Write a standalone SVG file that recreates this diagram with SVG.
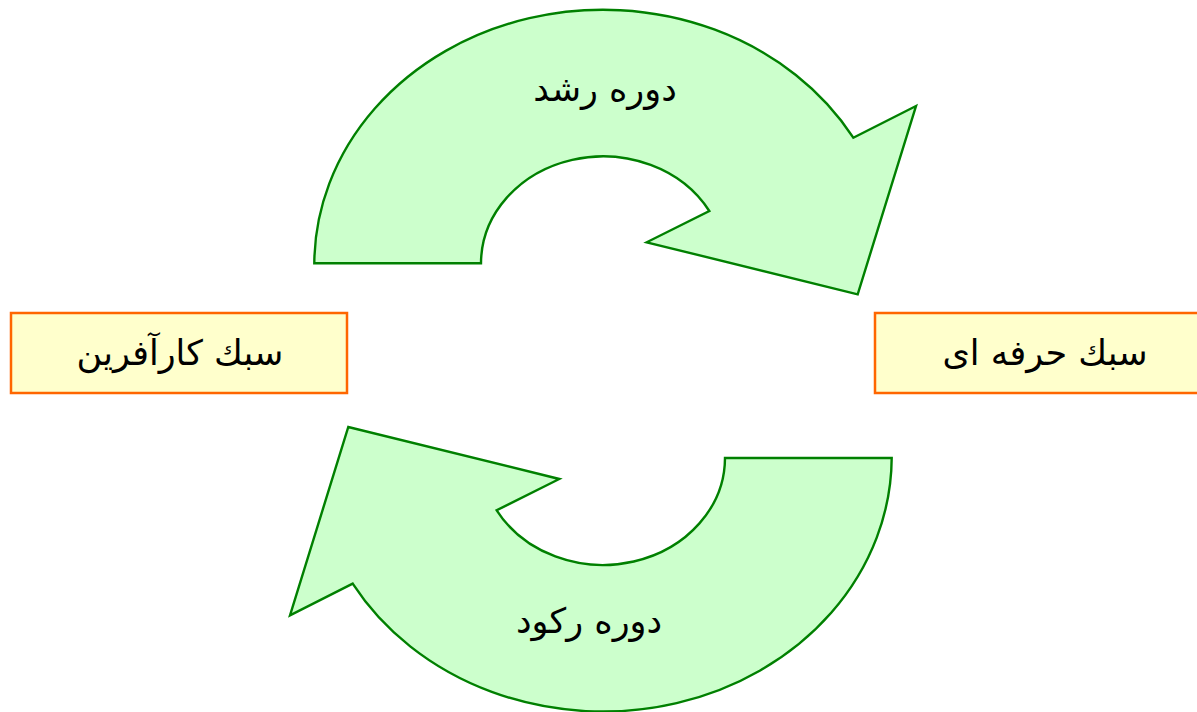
<svg xmlns="http://www.w3.org/2000/svg" xmlns:xlink="http://www.w3.org/1999/xlink" width="1197" height="712" viewBox="0 0 1197 712">
  <style>
    .arrow { fill: #CCFFCC; stroke: #008000; stroke-width: 2.4; stroke-linejoin: miter; }
    .box { fill: #FFFFCC; stroke: #FF6600; stroke-width: 2.5; }
    .lbl { font-family: "DejaVu Sans", "Liberation Serif", sans-serif; font-size: 35px; fill: #000000; text-anchor: middle; direction: rtl; }
  </style>
  <defs>
    <path id="cycleArrow" d="M 314.3 263.3 A 288.7 255 0 0 1 853.3 137.7 L 916 106 L 857.7 294.3 L 646.7 242.3 L 709.3 211 A 122 107.3 0 0 0 481 263.3 Z"/>
  </defs>
  <rect width="1197" height="712" fill="#FFFFFF"/>
  <g id="connectors">
    <g id="growth-arrow">
      <use xlink:href="#cycleArrow" href="#cycleArrow" class="arrow"/>
      <text class="lbl" x="605" y="101">دوره رشد</text>
    </g>
    <g id="stagnation-arrow">
      <use xlink:href="#cycleArrow" href="#cycleArrow" class="arrow" transform="rotate(180 603 360.65)"/>
      <text class="lbl" x="589" y="633">دوره ركود</text>
    </g>
  </g>
  <g id="entrepreneurial">
    <rect class="box" x="11" y="313" width="336" height="80"/>
    <text class="lbl" x="180" y="365">سبك كارآفرين</text>
  </g>
  <g id="professional">
    <rect class="box" x="875" y="313" width="330" height="80"/>
    <text class="lbl" x="1045" y="365">سبك حرفه ای</text>
  </g>
</svg>
